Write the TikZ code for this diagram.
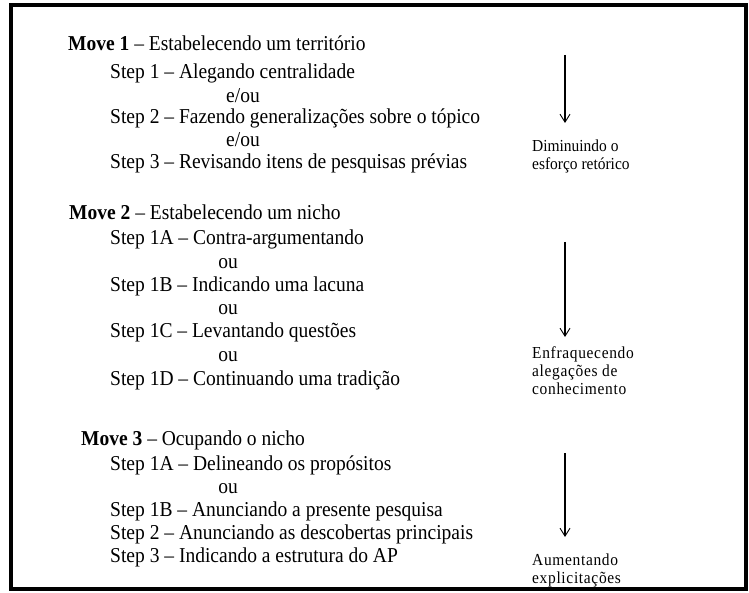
\documentclass[tikz,border=0pt]{standalone}
\usepackage{fontspec}
\setmainfont{Liberation Serif}[FakeStretch=0.92]
\usetikzlibrary{arrows.meta}

\newcommand{\txtgrande}{\fontsize{21.2}{22.5}\selectfont}
\newcommand{\txtlado}{\fontsize{16.8}{18}\selectfont}

\tikzset{
    movtxt/.style={anchor=mid west, inner sep=0pt, font=\txtgrande},
    passo/.style={anchor=mid west, inner sep=0pt, font=\txtgrande},
    conj/.style={anchor=mid, inner sep=0pt, font=\txtgrande},
    efeito/.style={anchor=north west, align=left, inner sep=0pt, font=\txtlado},
    seta/.style={line width=1.4pt, -{Straight Barb[length=8pt,width=10pt,line width=0.9pt]}}
}

\begin{document}
\begin{tikzpicture}[x=1pt,y=-1pt]
    \useasboundingbox (0,0) rectangle (749,593);
    \path node[movtxt] (M1) at (68,48) {\textbf{Move 1} -- Estabelecendo um território}
        node[passo] (M1S1) at (110,76) {Step 1 -- Alegando centralidade}
        node[conj] (M1o1) at (243,100) {e/ou}
        node[passo] (M1S2) at (110,121) {Step 2 -- Fazendo generalizações sobre o tópico}
        node[conj] (M1o2) at (243,144) {e/ou}
        node[passo] (M1S3) at (110,166) {Step 3 -- Revisando itens de pesquisas prévias};
    \path node[movtxt] (M2) at (69,217) {\textbf{Move 2} -- Estabelecendo um nicho}
        node[passo] (M2S1A) at (110,242) {Step 1A -- Contra-argumentando}
        node[conj] (M2o1) at (228,266) {ou}
        node[passo] (M2S1B) at (110,289) {Step 1B -- Indicando uma lacuna}
        node[conj] (M2o2) at (228,312) {ou}
        node[passo] (M2S1C) at (110,335) {Step 1C -- Levantando questões}
        node[conj] (M2o3) at (228,359) {ou}
        node[passo] (M2S1D) at (110,383) {Step 1D -- Continuando uma tradição};
    \path node[movtxt] (M3) at (81,443) {\textbf{Move 3} -- Ocupando o nicho}
        node[passo] (M3S1A) at (110,468) {Step 1A -- Delineando os propósitos}
        node[conj] (M3o1) at (228,491) {ou}
        node[passo] (M3S1B) at (110,514) {Step 1B -- Anunciando a presente pesquisa}
        node[passo] (M3S2) at (110,537) {Step 2 -- Anunciando as descobertas principais}
        node[passo] (M3S3) at (110,560) {Step 3 -- Indicando a estrutura do AP};
    % setas do lado direito
    \coordinate (A1) at (565,55);
    \coordinate (B1) at (565,123);
    \coordinate (A2) at (565,242);
    \coordinate (B2) at (565,337);
    \coordinate (A3) at (565,453);
    \coordinate (B3) at (565,537);
    \draw[seta] (A1) -- (B1);
    \draw[seta] (A2) -- (B2);
    \draw[seta] (A3) -- (B3);
    \path node[efeito] (E1) at (532,140) {Diminuindo o\\esforço retórico}
        node[efeito] (E2) at (532,346) {\addfontfeatures{LetterSpace=4}Enfraquecendo\\\addfontfeatures{LetterSpace=4}alegações de\\\addfontfeatures{LetterSpace=4}conhecimento}
        node[efeito] (E3) at (532,554) {\addfontfeatures{LetterSpace=4}Aumentando\\\addfontfeatures{LetterSpace=4}explicitações};
    % moldura
    \draw[line width=4pt] (11,5.5) rectangle (746,589);
\end{tikzpicture}
\end{document}
